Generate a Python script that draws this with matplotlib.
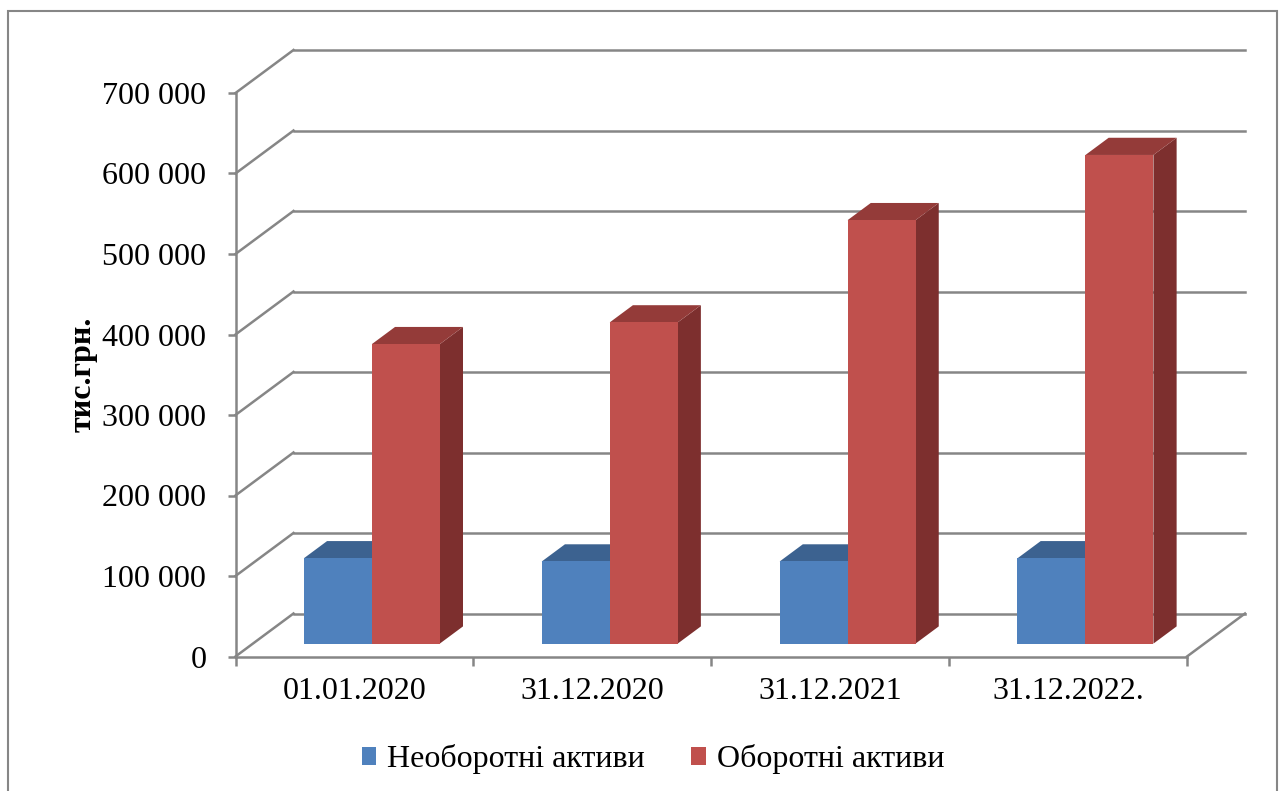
import matplotlib
matplotlib.use("Agg")
import matplotlib.pyplot as plt
from matplotlib.patches import Rectangle, Polygon, Patch

plt.rcParams['font.family'] = ['Liberation Serif', 'DejaVu Serif']

dates = ["01.01.2020", "31.12.2020", "31.12.2021", "31.12.2022."]
non_current = [106000, 102000, 102000, 106000]   # Необоротні активи
current = [372000, 399000, 526000, 607000]       # Оборотні активи
y_ticks = [0, 100000, 200000, 300000, 400000, 500000, 600000, 700000]

series = [("Необоротні активи", non_current, "#4F81BD", "#3C6290", "#2F4D73"),
          ("Оборотні активи", current, "#C0504D", "#943B39", "#7D2F2E")]

W_PX, H_PX = 1284, 791
fig = plt.figure(figsize=(W_PX / 100, H_PX / 100), dpi=100)
ax = fig.add_axes([235.5 / W_PX, (H_PX - 656.5) / H_PX,
                   951.5 / W_PX, 563.5 / H_PX])
ax.set_xlim(0, len(dates))
ax.set_ylim(0, 700000)

# oblique depth of the 3d box, in data units
DX = 58 / (951.5 / len(dates))
DY = 43 / (563.5 / 700000)
grid_c = "#868686"
lw = 1.8

# walls: left side diagonals + back wall lines
for v in y_ticks:
    ax.plot([0, DX], [v, v + DY], color=grid_c, lw=lw, clip_on=False, zorder=1)
    ax.plot([DX, len(dates) + DX], [v + DY, v + DY], color=grid_c, lw=lw,
            clip_on=False, zorder=1)
# floor right edge
ax.plot([len(dates), len(dates) + DX], [0, DY], color=grid_c, lw=lw,
        clip_on=False, zorder=1)

# bars
bw = 1 / 3.5
f0, f1 = 0.3, 0.7
for i in range(len(dates)):
    for s, (name, vals, c_front, c_top, c_side) in enumerate(series):
        v = vals[i]
        x0 = i + 0.5 - bw + s * bw
        x1 = x0 + bw
        front = Rectangle((x0 + f0 * DX, f0 * DY), bw, v, facecolor=c_front,
                          edgecolor="none", clip_on=False, zorder=3)
        top = Polygon([(x0 + f0 * DX, v + f0 * DY), (x1 + f0 * DX, v + f0 * DY),
                       (x1 + f1 * DX, v + f1 * DY), (x0 + f1 * DX, v + f1 * DY)],
                      closed=True, facecolor=c_top, edgecolor="none",
                      clip_on=False, zorder=3)
        side = Polygon([(x1 + f0 * DX, f0 * DY), (x1 + f1 * DX, f1 * DY),
                        (x1 + f1 * DX, v + f1 * DY), (x1 + f0 * DX, v + f0 * DY)],
                       closed=True, facecolor=c_side, edgecolor="none",
                       clip_on=False, zorder=3)
        ax.add_patch(side)
        ax.add_patch(top)
        ax.add_patch(front)

# axes
for k in ("top", "right"):
    ax.spines[k].set_visible(False)
for k in ("left", "bottom"):
    ax.spines[k].set_color(grid_c)
    ax.spines[k].set_linewidth(lw)
    ax.spines[k].set_zorder(2)

ax.set_yticks(y_ticks)
ax.set_yticklabels([f"{t:,}".replace(",", " ") for t in y_ticks])
ax.tick_params(axis="y", direction="out", length=6, width=lw, color=grid_c,
               labelsize=23, pad=15)
ax.set_xticks(range(len(dates) + 1))
ax.set_xticklabels([])
ax.set_xticks([i + 0.5 for i in range(len(dates))], minor=True)
ax.set_xticklabels(dates, minor=True)
ax.tick_params(axis="x", which="major", direction="out", length=6.5, width=lw,
               color=grid_c)
ax.tick_params(axis="x", which="minor", length=0, labelsize=23, pad=15)

ax.set_ylabel("тис.грн.", fontsize=23, fontweight="bold")
ax.yaxis.set_label_coords(-(235.5 - 98) / 951.5, 0.5)

handles = [Patch(facecolor=c, edgecolor="none", label=n) for n, _, c, _, _ in series]
fig.legend(handles=handles, loc="center", bbox_to_anchor=(0.5085, (H_PX - 759) / H_PX),
           ncol=2, frameon=False, fontsize=23, handlelength=0.45, handleheight=0.5,
           handletextpad=0.35, columnspacing=1.45)

# chart border
fig.add_artist(Rectangle((8 / W_PX, -0.01), (1277 - 8) / W_PX, (H_PX - 11) / H_PX + 0.01,
                         transform=fig.transFigure, fill=False, edgecolor="#868686",
                         lw=1.5))

fig.savefig("out.png", dpi=100)
